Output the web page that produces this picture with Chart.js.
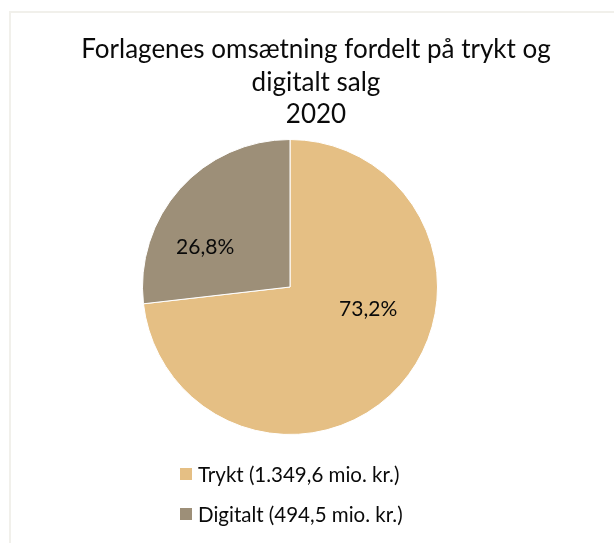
<!DOCTYPE html>
<html>
<head>
<meta charset="utf-8">
<script src="https://cdn.jsdelivr.net/npm/chart.js@4/dist/chart.umd.min.js"></script>
<style>
    html, body { margin: 0; padding: 0; background: #fff; }
    #wrap { width: 614px; height: 543px; }
</style>
</head>
<body>
<div id="wrap"><canvas id="pieChart" width="614" height="543"></canvas></div>
<script>
const titleLines = ['Forlagenes omsætning fordelt på trykt og', 'digitalt salg', '2020'];
const categories = ['Trykt (1.349,6 mio. kr.)', 'Digitalt (494,5 mio. kr.)'];
const values = [1349.6, 494.5];
const sliceColors = ['#e5bf84', '#9d8f78'];

const FONT = "Lato, 'Open Sans', sans-serif";
// where each percentage sits, as a fraction of the radius from the centre
const LABEL_POS = [[0.53, 0.15], [-0.575, -0.27]];

const total = values.reduce((a, b) => a + b, 0);
const pctText = v => (v / total * 100).toFixed(1).replace('.', ',') + '%';

const decor = {
    id: 'decor',
    beforeDraw(chart) {
        const ctx = chart.ctx;
        ctx.save();
        ctx.strokeStyle = '#f1f0eb';
        ctx.lineWidth = 2;
        ctx.beginPath();
        ctx.moveTo(10, chart.height);
        ctx.lineTo(10, 12);
        ctx.lineTo(chart.width, 12);
        ctx.stroke();
        ctx.restore();
    },
    afterDatasetsDraw(chart) {
        const ctx = chart.ctx;
        const arcs = chart.getDatasetMeta(0).data;
        ctx.save();
        ctx.font = '21px ' + FONT;
        ctx.fillStyle = '#0a0a0a';
        ctx.textAlign = 'center';
        ctx.textBaseline = 'middle';
        arcs.forEach((arc, i) => {
            const r = arc.outerRadius;
            ctx.fillText(pctText(values[i]), arc.x + LABEL_POS[i][0] * r, arc.y + LABEL_POS[i][1] * r);
        });
        ctx.restore();
    },
    afterDraw(chart) {
        const ctx = chart.ctx;
        const area = chart.chartArea;
        ctx.save();
        // title
        ctx.font = '26px ' + FONT;
        ctx.fillStyle = '#0a0a0a';
        ctx.textAlign = 'center';
        ctx.textBaseline = 'middle';
        titleLines.forEach((line, i) => {
            ctx.fillText(line, 316, 50 + i * 32.5);
        });
        // legend
        ctx.font = '20.5px ' + FONT;
        ctx.textAlign = 'left';
        categories.forEach((cat, i) => {
            const y = area.bottom + 39 + i * 40;
            ctx.fillStyle = sliceColors[i];
            ctx.fillRect(180, y - 6, 12, 12);
            ctx.fillStyle = '#0a0a0a';
            ctx.fillText(cat, 198, y + 1);
        });
        ctx.restore();
    }
};

new Chart(document.getElementById('pieChart'), {
    type: 'pie',
    data: {
        labels: categories,
        datasets: [{
            data: values,
            backgroundColor: sliceColors,
            borderColor: '#ffffff',
            borderWidth: 1
        }]
    },
    options: {
        responsive: false,
        animation: false,
        layout: {
            padding: { top: 139, bottom: 108, left: 142, right: 176 }
        },
        plugins: {
            legend: { display: false },
            tooltip: { enabled: false }
        }
    },
    plugins: [decor]
});
</script>
</body>
</html>
